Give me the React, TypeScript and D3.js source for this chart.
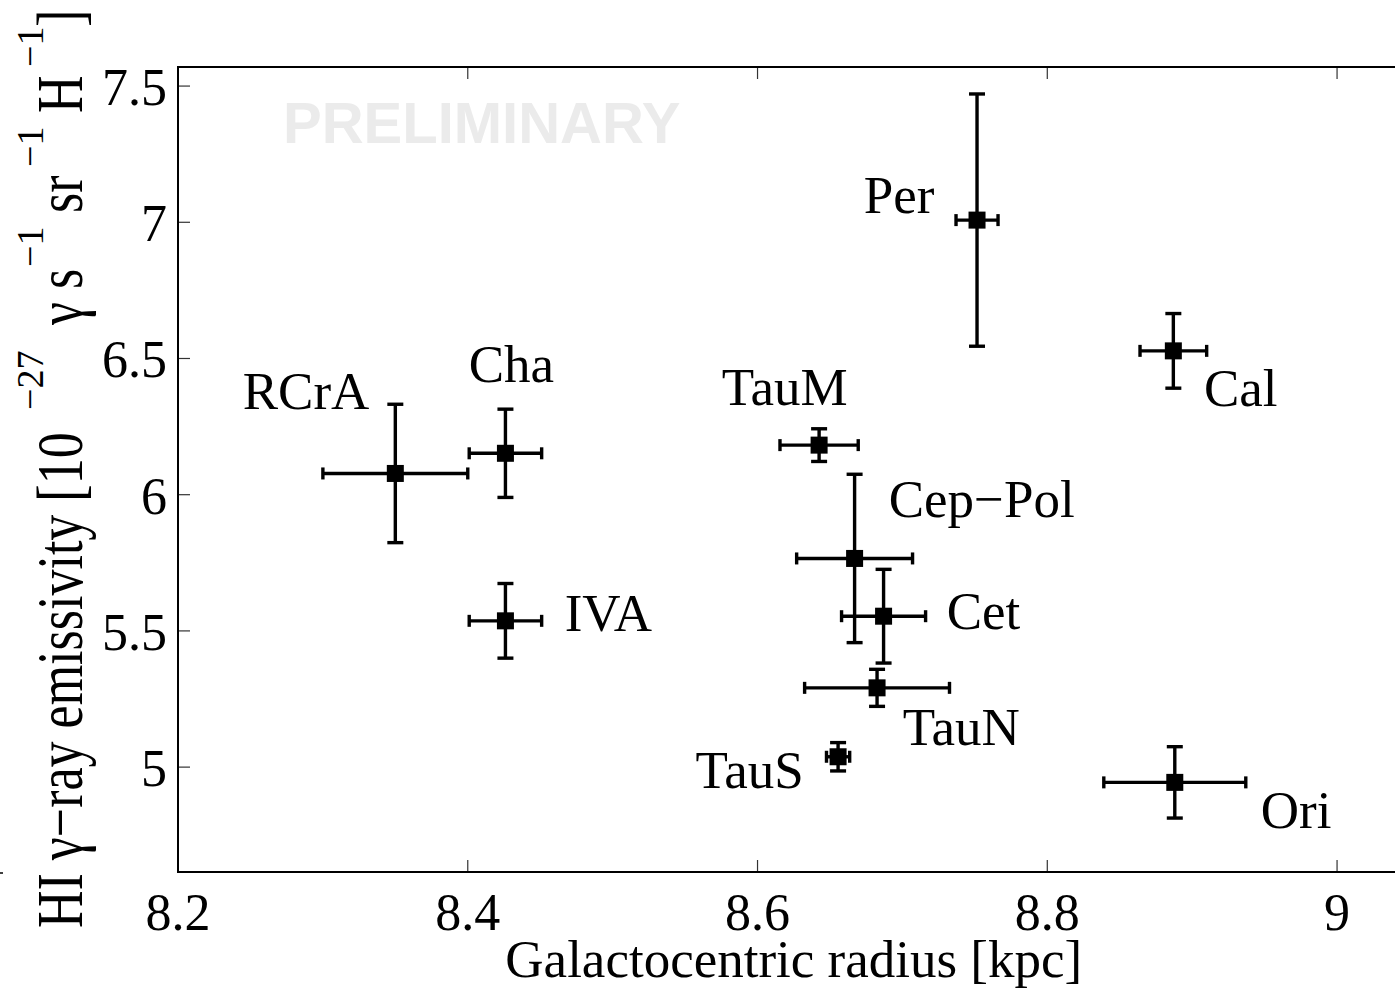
import React from "react";
import * as d3 from "d3";

const names = ["RCrA", "Cha", "IVA", "TauM", "Cep\u2212Pol", "Cet", "TauN", "TauS", "Per", "Cal", "Ori"];
const radius = [8.35, 8.426, 8.426, 8.6425, 8.667, 8.687, 8.6825, 8.6556, 8.7515, 8.887, 8.888];
const radiusErr = [0.05, 0.025, 0.025, 0.027, 0.04, 0.029, 0.05, 0.008, 0.0145, 0.023, 0.049];
const emissivity = [6.078, 6.152, 5.537, 6.182, 5.766, 5.554, 5.291, 5.038, 7.008, 6.528, 4.944];
const emissivityErr = [0.254, 0.162, 0.137, 0.06, 0.309, 0.172, 0.068, 0.052, 0.463, 0.137, 0.131];
// label anchor positions (data units)
const labelX = [8.2447, 8.4007, 8.4669, 8.5753, 8.6905, 8.7306, 8.7003, 8.5572, 8.6734, 8.9081, 8.9474];
const labelY = [6.314, 6.413, 5.499, 6.329, 5.918, 5.507, 5.081, 4.923, 7.035, 6.325, 4.776];

const xTicks = [8.2, 8.4, 8.6, 8.8, 9];
const xTickLabels = ["8.2", "8.4", "8.6", "8.8", "9"];
const yTicks = [5, 5.5, 6, 6.5, 7, 7.5];
const yTickLabels = ["5", "5.5", "6", "6.5", "7", "7.5"];

// y-axis title pieces: [text, superscript?, offset along axis]
const yTitleParts: [string, boolean, number][] = [
  ["HI \u03B3\u2212ray emissivity [10", false, 0],
  ["\u221227", true, 518],
  ["\u03B3 s", false, 603],
  ["\u22121", true, 661],
  ["sr", false, 715],
  ["\u22121", true, 761],
  ["H", false, 815],
  ["\u22121", true, 861],
  ["]", false, 901],
];

const W = 1395;
const H = 988;
const left = 178;
const right = 1409.5;
const top = 67;
const bottom = 872;
const serif = "'Liberation Serif', 'Times New Roman', serif";

export default function App() {
  const x = d3.scaleLinear().domain([8.2, 9.05]).range([left, right]);
  const y = d3.scaleLinear().domain([4.615, 7.57]).range([bottom, top]);
  const tickLen = 12;
  const cap = 8;
  const capX = 6;
  const lw = 3.4;
  const yTitleBase = 928;

  return (
    <svg
      width={W}
      height={H}
      style={{ position: "absolute", left: 0, top: 0, background: "#fff" }}
      fontFamily={serif}
    >
      <rect x={0} y={0} width={W} height={H} fill="#fff" />
      {/* watermark */}
      <text
        x={283}
        y={143}
        fontFamily="'Liberation Sans', Arial, sans-serif"
        fontWeight="bold"
        fontSize={58}
        fill="#ebebeb"
      >
        PRELIMINARY
      </text>

      {/* ticks */}
      {xTicks.map((t, i) => (
        <g key={"xt" + i}>
          <line x1={x(t)} x2={x(t)} y1={bottom} y2={bottom - tickLen} stroke="#333" strokeWidth={1.2} />
          <line x1={x(t)} x2={x(t)} y1={top} y2={top + tickLen} stroke="#333" strokeWidth={1.2} />
          <text x={x(t)} y={930} textAnchor="middle" fontSize={52} fill="#000">
            {xTickLabels[i]}
          </text>
        </g>
      ))}
      {yTicks.map((t, i) => (
        <g key={"yt" + i}>
          <line x1={left} x2={left + tickLen} y1={y(t)} y2={y(t)} stroke="#333" strokeWidth={1.2} />
          <line x1={right} x2={right - tickLen} y1={y(t)} y2={y(t)} stroke="#333" strokeWidth={1.2} />
          <text x={167} y={y(t) + 19} textAnchor="end" fontSize={52} fill="#000">
            {yTickLabels[i]}
          </text>
        </g>
      ))}

      {/* axes box */}
      <rect x={left} y={top} width={right - left} height={bottom - top} fill="none" stroke="#000" strokeWidth={2} />

      {/* error bars & markers */}
      {names.map((n, i) => {
        const cx = x(radius[i]);
        const cy = y(emissivity[i]);
        const y0 = y(emissivity[i] - emissivityErr[i]);
        const y1 = y(emissivity[i] + emissivityErr[i]);
        const x0 = x(radius[i] - radiusErr[i]);
        const x1 = x(radius[i] + radiusErr[i]);
        return (
          <g key={"p" + i} stroke="#000" strokeWidth={lw}>
            <line x1={cx} x2={cx} y1={y0} y2={y1} />
            <line x1={cx - cap} x2={cx + cap} y1={y0} y2={y0} />
            <line x1={cx - cap} x2={cx + cap} y1={y1} y2={y1} />
            <line x1={x0} x2={x1} y1={cy} y2={cy} />
            <line x1={x0} x2={x0} y1={cy - capX} y2={cy + capX} />
            <line x1={x1} x2={x1} y1={cy - capX} y2={cy + capX} />
            <rect x={cx - 8.5} y={cy - 8.5} width={17} height={17} fill="#000" stroke="none" />
          </g>
        );
      })}

      {/* labels */}
      {names.map((n, i) => (
        <text key={"l" + i} x={x(labelX[i])} y={y(labelY[i])} fontSize={53} fill="#000">
          {n}
        </text>
      ))}

      {/* x title */}
      <text x={(left + right) / 2} y={977} textAnchor="middle" fontSize={53} fill="#000">
        Galactocentric radius [kpc]
      </text>

      {/* y title */}
      {yTitleParts.map(([s, sup, off], i) =>
        sup ? (
          <text
            key={"yl" + i}
            transform={`translate(43,${yTitleBase - off}) rotate(-90)`}
            fontSize={38}
            fill="#000"
          >
            {s}
          </text>
        ) : (
          <text
            key={"yl" + i}
            transform={`translate(82,${yTitleBase - off}) rotate(-90) scale(1,1.25)`}
            fontSize={52}
            fill="#000"
          >
            {s}
          </text>
        )
      )}

      {/* stray mark at left edge */}
      <line x1={0} x2={3} y1={873} y2={873} stroke="#000" strokeWidth={1.5} />
    </svg>
  );
}
